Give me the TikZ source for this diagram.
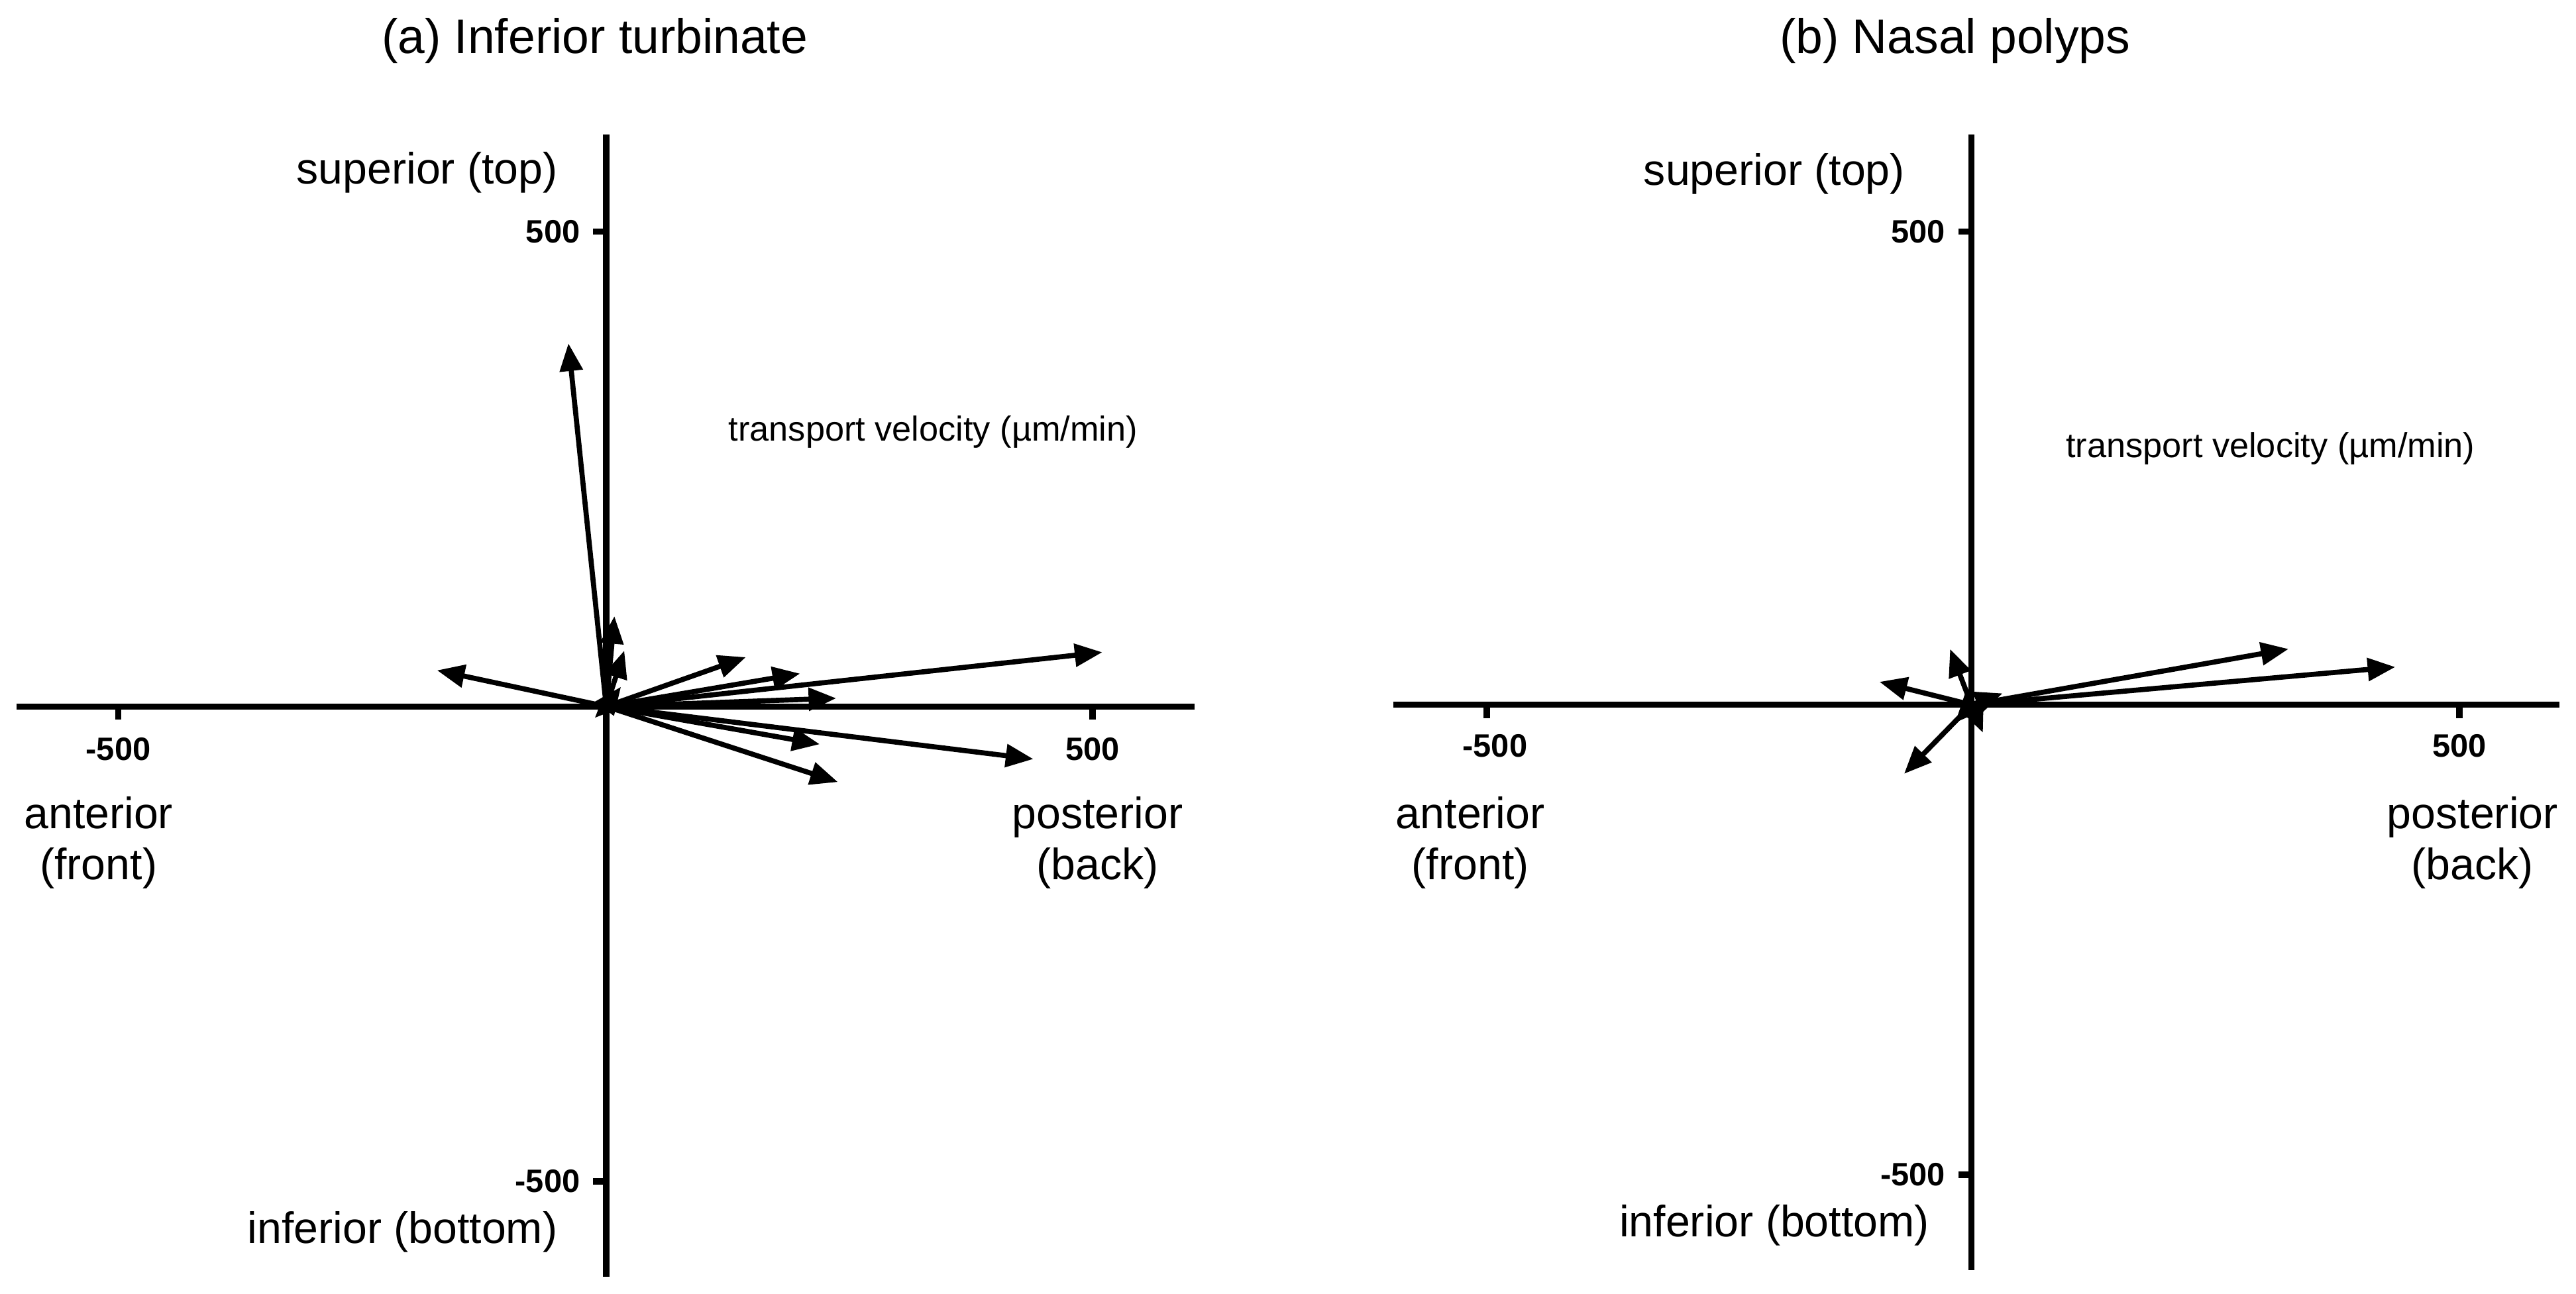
\documentclass[tikz,border=0pt]{standalone}
\usepackage{fontspec}
\setmainfont{Liberation Sans}
\usetikzlibrary{arrows.meta}
\begin{document}
\begin{tikzpicture}[x=0.025cm,y=-0.025cm,
  axis/.style={line width=2.7pt},
  tick/.style={line width=2.7pt},
  vec/.style={line width=2.2pt,-{Triangle[length=0.42cm,width=0.34cm]}},
  lab/.style={font=\fontsize{19}{22}\selectfont,align=center},
  ttl/.style={font=\fontsize{21}{24}\selectfont},
  num/.style={font=\bfseries\fontsize{14}{16}\selectfont},
  vel/.style={font=\fontsize{15}{18}\selectfont}]
\useasboundingbox (0,0) rectangle (1568,787.6);
% ---------- panel a ----------
\coordinate (oa) at (369,430);
\draw[axis] (10,430) -- (727,430);
\draw[axis] (369,82) -- (369,777);
\draw[tick] (72,430) -- (72,438);
\draw[tick] (665,430) -- (665,438);
\draw[tick] (369,141) -- (361,141);
\draw[tick] (369,719) -- (361,719);
\node[ttl] (ta) at (362,25) {(a) Inferior turbinate};
\node[lab] (supa) at (260,105) {superior (top)};
\node[num,anchor=east] (ya1) at (358,141) {500};
\node[num,anchor=east] (ya2) at (358,719) {-500};
\node[num] (xa1) at (72,456) {-500};
\node[num] (xa2) at (665,456) {500};
\node[vel] (va) at (568,263) {transport velocity (\textmu m/min)};
\node[lab] (anta) at (60,513) {anterior\\(front)};
\node[lab] (posa) at (668,513) {posterior\\(back)};
\node[lab] (infa) at (245,750) {inferior (bottom)};
\coordinate (a1) at (346,209);
\coordinate (a2) at (266,408);
\coordinate (a3) at (374,375);
\coordinate (a4) at (380,396);
\coordinate (a5) at (454,400);
\coordinate (a6) at (487,410);
\coordinate (a7) at (671,397);
\coordinate (a8) at (509,425);
\coordinate (a9) at (499,453);
\coordinate (a10) at (629,462);
\coordinate (a11) at (510,476);
\coordinate (a12) at (362,437);
\coordinate (a13) at (378,418);
\draw[vec] (oa) -- (a1);
\draw[vec] (oa) -- (a2);
\draw[vec] (oa) -- (a3);
\draw[vec] (oa) -- (a4);
\draw[vec] (oa) -- (a5);
\draw[vec] (oa) -- (a6);
\draw[vec] (oa) -- (a7);
\draw[vec] (oa) -- (a8);
\draw[vec] (oa) -- (a9);
\draw[vec] (oa) -- (a10);
\draw[vec] (oa) -- (a11);
\draw[vec] (oa) -- (a12);
\draw[vec] (oa) -- (a13);
% ---------- panel b ----------
\coordinate (ob) at (1200,429);
\draw[axis] (848,429) -- (1558,429);
\draw[axis] (1200,82) -- (1200,773);
\draw[tick] (905,429) -- (905,437);
\draw[tick] (1497,429) -- (1497,437);
\draw[tick] (1200,141) -- (1192,141);
\draw[tick] (1200,715) -- (1192,715);
\node[ttl] (tb) at (1190,25) {(b) Nasal polyps};
\node[lab] (supb) at (1080,106) {superior (top)};
\node[num,anchor=east] (yb1) at (1189,141) {500};
\node[num,anchor=east] (yb2) at (1189,715) {-500};
\node[num] (xb1) at (910,454) {-500};
\node[num] (xb2) at (1497,454) {500};
\node[vel] (vb) at (1382,273) {transport velocity (\textmu m/min)};
\node[lab] (antb) at (895,513) {anterior\\(front)};
\node[lab] (posb) at (1505,513) {posterior\\(back)};
\node[lab] (infb) at (1080,746) {inferior (bottom)};
\coordinate (b1) at (1393,395);
\coordinate (b2) at (1458,406);
\coordinate (b3) at (1144,415);
\coordinate (b4) at (1159,471);
\coordinate (b5) at (1187,395);
\coordinate (b6) at (1207,446);
\coordinate (b7) at (1219,422);
\coordinate (b8) at (1190,440);
\draw[vec] (ob) -- (b1);
\draw[vec] (ob) -- (b2);
\draw[vec] (ob) -- (b3);
\draw[vec] (ob) -- (b4);
\draw[vec] (ob) -- (b5);
\draw[vec] (ob) -- (b6);
\draw[vec] (ob) -- (b7);
\draw[vec] (ob) -- (b8);
\end{tikzpicture}
\end{document}
